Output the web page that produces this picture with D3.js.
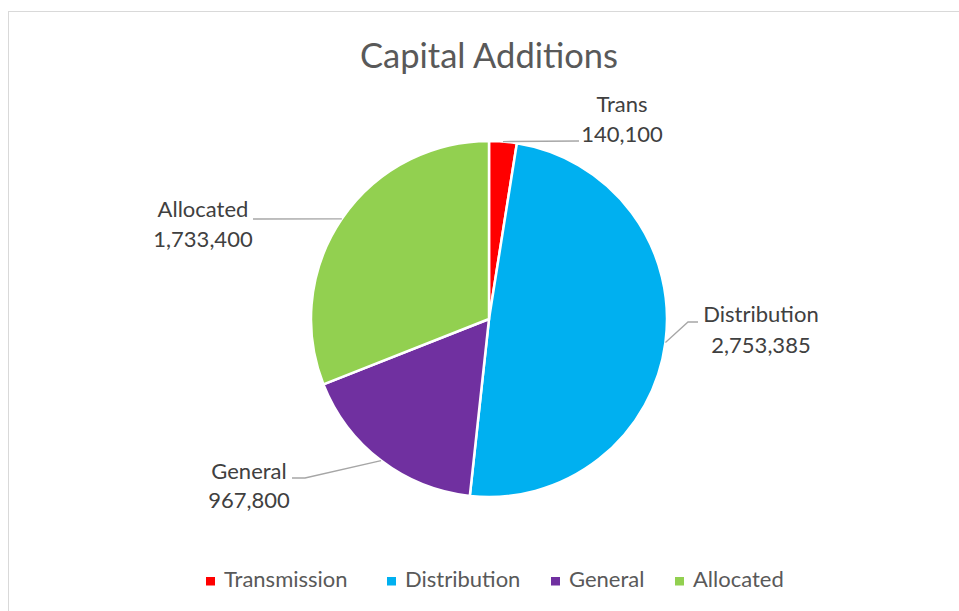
<!DOCTYPE html>
<html>
<head>
<meta charset="utf-8">
<script src="https://cdn.jsdelivr.net/npm/d3@7"></script>
<style>
  html, body { margin: 0; padding: 0; background: #fff; }
  svg { display: block; }
  text { font-family: Lato, "Open Sans", sans-serif; }
</style>
</head>
<body>
<svg id="chart" width="959" height="611"></svg>
<script>
// Capital additions by function
const categories = ["Transmission", "Distribution", "General", "Allocated"];
const shortNames = ["Trans", "Distribution", "General", "Allocated"];
const values = [140100, 2753385, 967800, 1733400];
const colors = ["#FF0000", "#00B0F0", "#7030A0", "#92D050"];

const svg = d3.select("#chart");
const W = 959, H = 611;
const cx = 489, cy = 319, R = 178;

// chart frame
svg.append("rect")
  .attr("x", 8.5).attr("y", 11.5)
  .attr("width", W + 10).attr("height", H + 10)
  .attr("fill", "#fff").attr("stroke", "#d9d9d9").attr("stroke-width", 1);

svg.append("text")
  .attr("x", cx).attr("y", 68)
  .attr("text-anchor", "middle")
  .attr("font-size", 34.5)
  .attr("fill", "#595959")
  .text("Capital Additions");

const pie = d3.pie().sort(null).value(d => d)(values);
const arc = d3.arc().innerRadius(0).outerRadius(R);

const g = svg.append("g").attr("transform", `translate(${cx},${cy})`);
g.selectAll("path.slice")
  .data(pie)
  .join("path")
  .attr("class", "slice")
  .attr("d", arc)
  .attr("fill", (d, i) => colors[i])
  .attr("stroke", "#fff")
  .attr("stroke-width", 2.5)
  .attr("stroke-linejoin", "round");

// data label placement for each slice (relative to chart centre)
const labelLayout = [
  { tx: 133, ty: -207, gap: 30, elbow: [[90, -178]] },
  { tx: 272, ty: 3, gap: 31, elbow: [[199, 3], [209, 3]] },
  { tx: -240, ty: 160, gap: 29, elbow: [[-184, 159], [-197, 159]] },
  { tx: -286, ty: -102, gap: 30, elbow: [[-236, -100]] }
];

const fmt = d3.format(",");
const labels = svg.append("g").attr("transform", `translate(${cx},${cy})`);
pie.forEach((d, i) => {
  const a = (d.startAngle + d.endAngle) / 2;
  const p0 = [R * Math.sin(a), -R * Math.cos(a)];
  const L = labelLayout[i];
  labels.append("path")
    .attr("d", d3.line()([p0, ...L.elbow]))
    .attr("fill", "none")
    .attr("stroke", "#a6a6a6")
    .attr("stroke-width", 1.3);
  const t = labels.append("text")
    .attr("x", L.tx).attr("y", L.ty)
    .attr("text-anchor", "middle")
    .attr("font-size", 22)
    .attr("fill", "#404040");
  t.append("tspan").attr("x", L.tx).attr("dy", 0).text(shortNames[i]);
  t.append("tspan").attr("x", L.tx).attr("dy", L.gap).text(fmt(values[i]));
});

// legend
const legendX = [206, 387, 551, 675];
const legend = svg.append("g");
categories.forEach((c, i) => {
  legend.append("rect")
    .attr("x", legendX[i]).attr("y", 577)
    .attr("width", 9).attr("height", 8.5)
    .attr("fill", colors[i]);
  legend.append("text")
    .attr("x", legendX[i] + 18).attr("y", 587)
    .attr("font-size", 22)
    .attr("fill", "#595959")
    .text(c);
});
</script>
</body>
</html>
